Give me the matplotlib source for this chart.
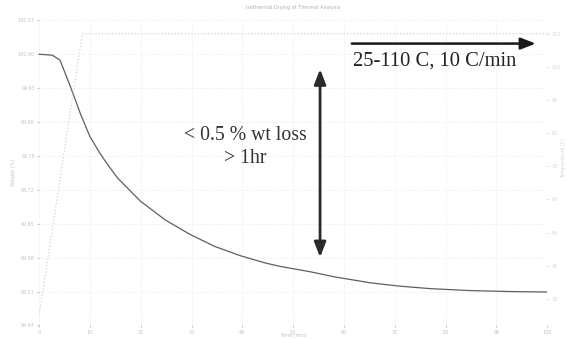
import numpy as np
import matplotlib
matplotlib.use("Agg")
import matplotlib.pyplot as plt

# weight curve (time in min, weight in %)
time_min = [0, 2.6, 4.1, 6.1, 8.1, 10.0, 12.0, 13.5, 15.4, 19.9, 24.8, 29.7,
            34.6, 39.6, 44.5, 47.4, 53.3, 58.3, 65.2, 71.1, 77.0, 84.8, 92.7, 100]
weight_pct = [100.00, 99.998, 99.988, 99.935, 99.878, 99.830, 99.795, 99.772,
              99.745, 99.697, 99.658, 99.628, 99.603, 99.584, 99.569, 99.562,
              99.551, 99.540, 99.528, 99.521, 99.516, 99.512, 99.510, 99.509]

# temperature programme: ramp 25 -> 110 C at 10 C/min, then hold
temp_time = [0, 8.5, 100]
temp_c = [25, 110, 110]

y_ticks = [100.07, 100.00, 99.93, 99.86, 99.79, 99.72, 99.65, 99.58, 99.51, 99.44]
x_ticks = [0, 10, 20, 30, 40, 50, 60, 70, 80, 90, 100]
t_ticks = [30, 40, 50, 60, 70, 80, 90, 100, 110]

fig = plt.figure(figsize=(5.67, 3.39), dpi=100)
ax = fig.add_axes([0.069, 0.04, 0.896, 0.90])

ax.plot(time_min, weight_pct, color="#5e5e5e", lw=0.9)
ax.set_xlim(0, 100)
ax.set_ylim(99.44, 100.07)
ax.set_xticks(x_ticks)
ax.set_yticks(y_ticks)
ax.set_yticklabels(["%.2f" % v for v in y_ticks])
ax.grid(True, color="#e6e6e6", ls=":", lw=0.6)
ax.tick_params(labelsize=3.5, colors="#c4c4c4", length=1.5, pad=1.5)
for s in ax.spines.values():
    s.set_visible(False)
ax.set_ylabel("Weight (%)", fontsize=3.5, color="#c4c4c4", labelpad=1)
ax.set_xlabel("Time (min)", fontsize=3.5, color="#c4c4c4", labelpad=0)
ax.xaxis.set_label_coords(0.5, -0.025)
ax.set_title("Isothermal Drying at Thermal Analysis", fontsize=3.5,
             color="#b0b0b0", pad=8)

ax2 = ax.twinx()
ax2.plot(temp_time, temp_c, color="#d2d2d2", ls=":", lw=0.9)
ax2.set_ylim(22, 114)
ax2.set_yticks(t_ticks)
ax2.tick_params(labelsize=3.5, colors="#d6d6d6", length=1.5, pad=1.5)
for s in ax2.spines.values():
    s.set_visible(False)
ax2.set_ylabel("Temperature (C)", fontsize=3.5, color="#d6d6d6")
ax2.yaxis.set_label_coords(1.028, 0.55)

# annotations
ax.annotate("", xy=(98.3, 100.022), xytext=(61.0, 100.022),
            arrowprops=dict(arrowstyle="-|>,head_length=0.9,head_width=0.35",
                            color="#1a1a1a", lw=1.8))
ax.text(61.8, 99.986, "25-110 C, 10 C/min", fontsize=14.8,
        family="Liberation Serif", color="#222222", va="center", ha="left")

ax.annotate("", xy=(55.3, 99.975), xytext=(55.3, 99.575),
            arrowprops=dict(arrowstyle="<|-|>,head_length=0.9,head_width=0.35",
                            color="#2a2a2a", lw=2.0))
ax.text(40.5, 99.808, "< 0.5 % wt loss\n> 1hr", fontsize=14.2,
        family="Liberation Serif", color="#333333", va="center", ha="center",
        multialignment="center", linespacing=1.25)

fig.savefig("out.png", dpi=100)
